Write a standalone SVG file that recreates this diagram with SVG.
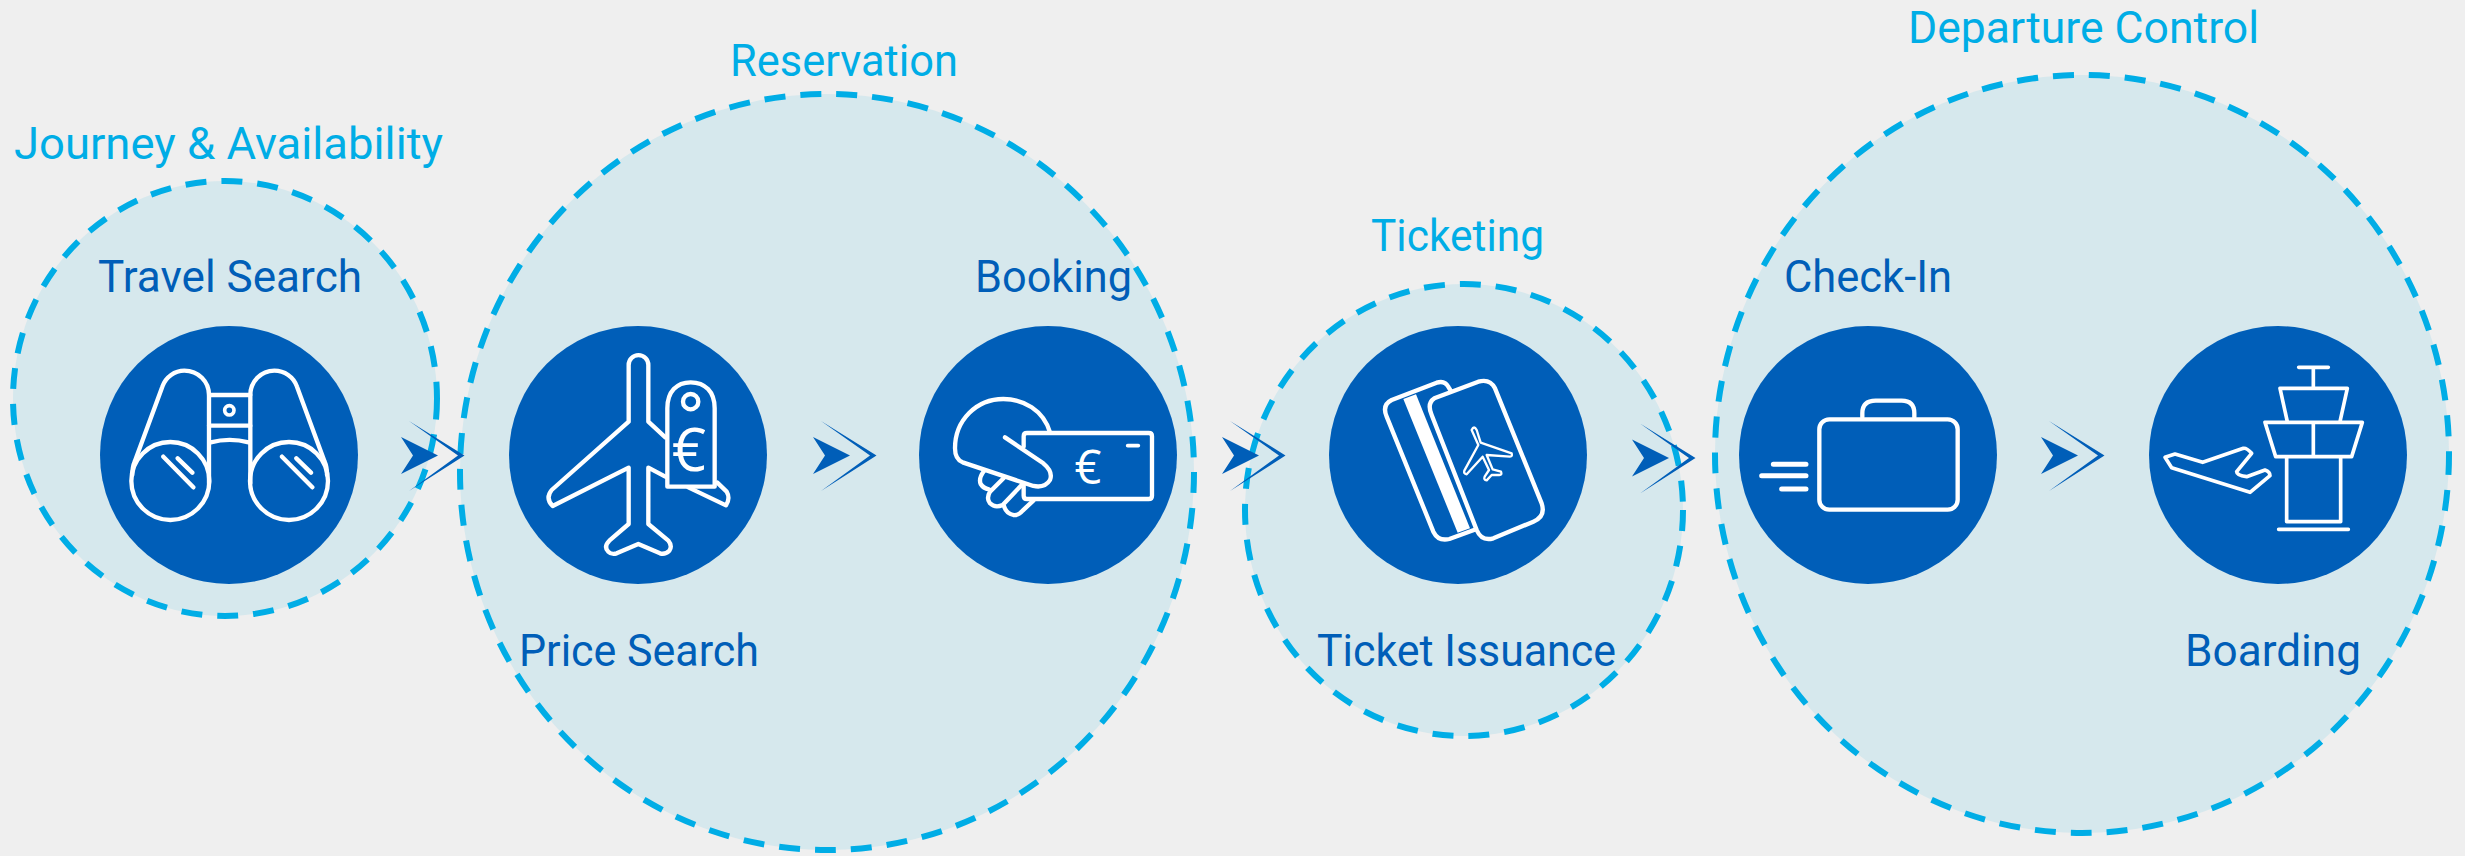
<svg xmlns="http://www.w3.org/2000/svg" width="2465" height="856" viewBox="0 0 2465 856">
<style>
.bg{fill:#efefef}
.region{fill:#d6e8ed;stroke:#00ade6;stroke-width:6;stroke-dasharray:21 15}
.disc{fill:#005eb8}
.ic{fill:none;stroke:#fff;stroke-width:13;stroke-linecap:round;stroke-linejoin:round}
.t{font-family:Roboto,"Open Sans","Liberation Sans",sans-serif;font-weight:400;font-size:45px;text-anchor:start}
.stage{fill:#00ade6}
.step{fill:#005eb8}
.eur{font-family:"Open Sans","Liberation Sans",sans-serif;font-weight:400;fill:#fff;text-anchor:middle}
.arrow{fill:#005eb8}
</style>
<defs>
<g id="arr"><path d="M401 437 L438 455.5 L401 474 L413 455.5Z"/><path d="M409 421 L464.5 455.5 L409 491 L458 455.5Z"/></g>
</defs>
<rect class="bg" width="2465" height="856"/>

<g id="region-journey"><ellipse class="region" cx="225" cy="398.5" rx="212" ry="217.5"/><text class="t stage" x="14" y="159" textLength="429" lengthAdjust="spacingAndGlyphs">Journey &amp; Availability</text></g>
<g id="region-reservation"><ellipse class="region" cx="827" cy="472" rx="367" ry="378"/><text class="t stage" x="730" y="76" textLength="228" lengthAdjust="spacingAndGlyphs">Reservation</text></g>
<g id="region-ticketing"><ellipse class="region" cx="1464" cy="510" rx="219" ry="226"/><text class="t stage" x="1371" y="251" textLength="173" lengthAdjust="spacingAndGlyphs">Ticketing</text></g>
<g id="region-departure"><ellipse class="region" cx="2082" cy="454" rx="367" ry="379"/><text class="t stage" x="1908" y="43" textLength="351" lengthAdjust="spacingAndGlyphs">Departure Control</text></g>

<g id="node-travel-search">
<circle class="disc" cx="229" cy="455" r="129"/>
<g transform="translate(0,100) scale(.33333)" class="ic">
<path d="M397 1125Q397 1100 404 1085L487 860C497 830 525 812 553 812C595 812 627 845 627 885V1150"/>
<path d="M981 1125Q981 1100 974 1085L891 860C881 830 853 812 823 812C783 812 751 845 751 885V1150"/>
<circle cx="511" cy="1143" r="117"/><circle cx="867" cy="1143" r="117"/>
<path d="M627 885H751M627 977H751M632 1027Q689 1012 746 1027"/>
<circle cx="688" cy="931" r="14" stroke-width="11"/>
<path d="M490 1070L580 1162M533 1075L577 1118M846 1070L937 1162M889 1075L933 1118"/>
</g>
<text class="t step" x="98" y="292" textLength="264" lengthAdjust="spacingAndGlyphs">Travel Search</text>
</g>

<g id="node-price-search">
<circle class="disc" cx="638" cy="455" r="129"/>
<g transform="translate(480,300) scale(.33333)" class="ic">
<path d="M556 412L505 365V195A29.5 29.5 0 0 0 446 195V365L215 570Q195 595 218 618L446 503V672L388 722Q370 740 385 755Q395 765 410 760L475 732L540 760Q555 765 568 752Q578 738 565 722L505 672V503L556 530"/>
<path d="M712 548L740 575Q752 595 738 616L625 562"/>
<path d="M562 560V325C562 275 590 247 632 247C675 247 704 275 704 325V560Z"/>
<circle cx="632" cy="305" r="23"/>
</g>
<text class="eur" x="689" y="471" font-size="60">€</text>
<text class="t step" x="519" y="666" textLength="240" lengthAdjust="spacingAndGlyphs">Price Search</text>
</g>

<g id="node-booking">
<circle class="disc" cx="1048" cy="455" r="129"/>
<g transform="translate(880,300) scale(.33333)" class="ic">
<path d="M510 397C490 330 430 297 370 297C290 297 225 360 225 445Q225 478 248 487L460 558Q495 565 510 540Q520 515 490 490L375 412"/>
<path d="M431 440V409Q431 399 441 399H806Q816 399 816 409V587Q816 597 806 597H441Q431 597 431 587V555"/>
<path d="M312 513Q295 535 302 552Q310 565 327 568M372 533L330 575Q318 595 330 610Q345 625 368 615L425 555M372 618Q378 640 400 645Q415 647 428 632L460 602"/>
<path d="M743 437H775" stroke-width="11"/>
</g>
<text class="eur" x="1088" y="484" font-size="47">€</text>
<text class="t step" x="975" y="292" textLength="157" lengthAdjust="spacingAndGlyphs">Booking</text>
</g>

<g id="node-ticket-issuance">
<circle class="disc" cx="1458" cy="455" r="129"/>
<g transform="translate(1290,300) scale(.33333)" class="ic">
<path d="M433 295L565 245Q600 235 615 265L755 610Q768 650 730 665L610 715Q575 725 560 690L425 345Q410 310 433 295Z"/>
<path d="M482 272L476 262Q465 240 440 248L305 300Q275 315 290 350L430 695Q445 725 478 717L558 688"/>
<path d="M340 297L378 283L540 685L503 698Z" fill="#fff" stroke="none"/>
<path stroke-width="7" d="M545 390Q552 375 560 390L572 428L665 460Q668 470 660 470L590 465L608 508L633 515Q637 525 628 525L605 525L590 541Q580 540 584 530L597 510L578 470L530 523Q520 522 523 512L565 435Z"/>
</g>
<text class="t step" x="1317" y="666" textLength="299" lengthAdjust="spacingAndGlyphs">Ticket Issuance</text>
</g>

<g id="node-check-in">
<circle class="disc" cx="1868" cy="455" r="129"/>
<g transform="translate(1720,300) scale(.33333)" class="ic">
<rect x="298" y="358" width="415" height="271" rx="30"/>
<path d="M427 352V340Q427 302 467 302H545Q583 302 583 340V352"/>
<path stroke-width="15" d="M160 493H258M125 527H258M185 567H258"/>
</g>
<text class="t step" x="1784" y="292" textLength="168" lengthAdjust="spacingAndGlyphs">Check-In</text>
</g>

<g id="node-boarding">
<circle class="disc" cx="2278" cy="455" r="129"/>
<g transform="translate(2030,300) scale(.33333)" class="ic">
<path stroke-width="11" d="M806 202H895M850 202V265M772 365L750 265H952L930 365M705 367H997L965 470H737ZM850 367V470M770 470V665H932V470M746 688H955"/>
<path stroke-width="11" d="M405 472L435 462L518 487L640 445Q650 443 665 460L620 515Q620 525 650 530L705 510Q720 515 720 527L660 577L425 503Z"/>
</g>
<text class="t step" x="2185" y="666" textLength="176" lengthAdjust="spacingAndGlyphs">Boarding</text>
</g>

<g id="connectors" class="arrow">
<use href="#arr"/>
<use href="#arr" x="412"/>
<use href="#arr" x="821"/>
<use href="#arr" x="1231" y="2.5"/>
<use href="#arr" x="1640"/>
</g>
</svg>
